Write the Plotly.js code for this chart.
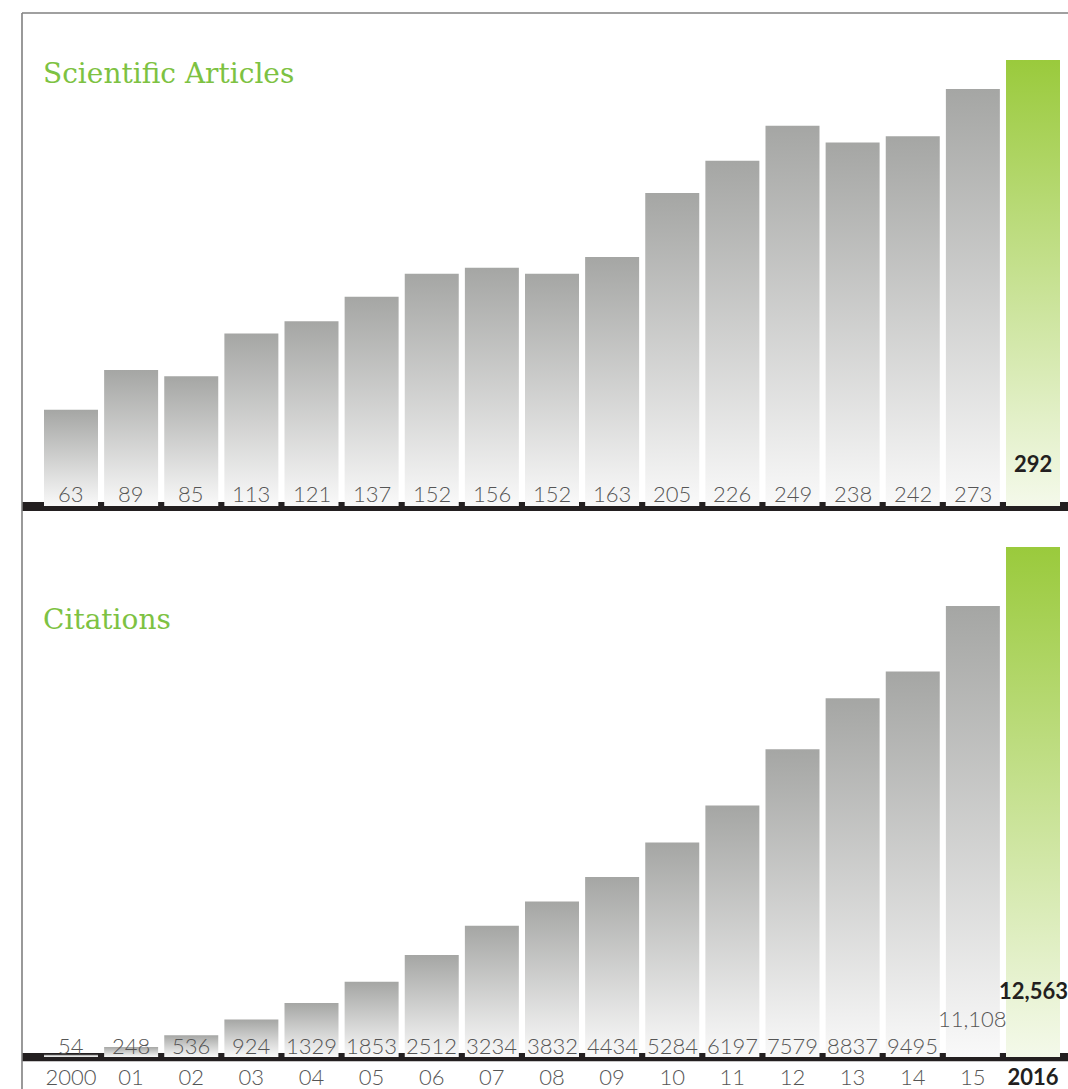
<!DOCTYPE html>
<html>
<head>
<meta charset="utf-8">
<script src="https://cdn.plot.ly/plotly-3.0.1.min.js"></script>
<style>
  html, body { margin: 0; padding: 0; background: #ffffff; }
  #chart { width: 1068px; height: 1089px; }
</style>
</head>
<body>
<div id="chart"></div>
<script>
// ---- data ----
const years = ['2000','01','02','03','04','05','06','07','08','09','10','11','12','13','14','15','2016'];
const articles = [63, 89, 85, 113, 121, 137, 152, 156, 152, 163, 205, 226, 249, 238, 242, 273, 292];
const citations = [54, 248, 536, 924, 1329, 1853, 2512, 3234, 3832, 4434, 5284, 6197, 7579, 8837, 9495, 11108, 12563];
const titles = ['Scientific Articles', 'Citations'];

// ---- styles ----
const W = 1068, H = 1089;
const GRAY_TOP = '#a5a6a4', GRAY_BOT = '#f9f9f9';
const GREEN_TOP = '#9aca3c', GREEN_BOT = '#f4f9ea';
const DARK = '#231f20', LABEL = '#555555', TITLE_GREEN = '#7dc242';
const HW = 0.449;      // bar half width (in category units)
const LAST = years.length - 1;

function barTraces(values, xa, ya) {
  return values.map((v, i) => {
    const hi = i === LAST;
    return {
      type: 'scatter', xaxis: xa, yaxis: ya,
      x: [i - HW, i - HW, i + HW, i + HW, i - HW],
      y: [0, v, v, 0, 0],
      mode: 'lines', line: {width: 0, color: 'rgba(0,0,0,0)'},
      fill: 'toself',
      fillgradient: {
        type: 'vertical', start: 0, stop: v,
        colorscale: hi ? [[0, GREEN_BOT], [1, GREEN_TOP]] : [[0, GRAY_BOT], [1, GRAY_TOP]]
      },
      hoverinfo: 'skip', showlegend: false
    };
  });
}

function fmt(v) { return v >= 10000 ? v.toLocaleString('en-US') : String(v); }

function valueAnns(values, xref, yref, shifts) {
  return values.map((v, i) => {
    const hi = i === LAST;
    return {
      xref: xref, yref: yref, x: i, y: 0,
      text: hi ? '<b>' + fmt(v) + '</b>' : fmt(v),
      showarrow: false, xanchor: 'center', yanchor: 'middle',
      yshift: shifts(i),
      font: {family: 'Lato, "Open Sans", sans-serif', size: 22, weight: hi ? 700 : 300, color: hi ? DARK : LABEL}
    };
  });
}

const traces = [].concat(barTraces(articles, 'x', 'y'), barTraces(citations, 'x2', 'y2'));

// pixel geometry -> axis ranges
const pxPerCat = 60.125;
const xDom0 = 22 / W;
const firstCenterOffset = 49;           // px from domain start to first bar centre
const xr0 = -firstCenterOffset / pxPerCat;
const xr1 = xr0 + (W - 22) / pxPerCat;

// top panel: zero at y=506 px, 292 -> 60 px
const topZero = 506, topDomBot = 515, topScale = (506 - 60) / 292;
// bottom panel: zero at y=1057 px, 12563 -> 547 px
const botZero = 1057, botDomBot = 1061.5, botDomTop = 520, botScale = (1057 - 547) / 12563;

const axHidden = {showgrid: false, zeroline: false, showticklabels: false, ticks: '', showline: false, fixedrange: true};

const tickText = years.map((y, i) => i === LAST ? '<span style="color:' + DARK + '"><b>' + y + '</b></span>' : y);

const layout = {
  width: W, height: H,
  margin: {l: 0, r: 0, t: 0, b: 0},
  paper_bgcolor: '#ffffff', plot_bgcolor: 'rgba(0,0,0,0)',
  showlegend: false,
  xaxis: Object.assign({}, axHidden, {domain: [xDom0, 1], range: [xr0, xr1], anchor: 'y'}),
  yaxis: Object.assign({}, axHidden, {
    domain: [(H - topDomBot) / H, 1],
    range: [-(topDomBot - topZero) / topScale, topZero / topScale], anchor: 'x'}),
  xaxis2: {
    domain: [xDom0, 1], range: [xr0, xr1], anchor: 'y2',
    showgrid: false, zeroline: false, showline: false, ticks: '', fixedrange: true,
    tickmode: 'array', tickvals: years.map((y, i) => i), ticktext: tickText,
    tickfont: {family: 'Lato, "Open Sans", sans-serif', size: 22, weight: 300, color: LABEL}
  },
  yaxis2: Object.assign({}, axHidden, {
    domain: [(H - botDomBot) / H, (H - botDomTop) / H],
    range: [-(botDomBot - botZero) / botScale, (botZero - botDomTop) / botScale], anchor: 'x2'}),
  shapes: [
    // frame
    {type: 'line', xref: 'paper', yref: 'paper', x0: xDom0, x1: 1, y0: 1 - 13 / H, y1: 1 - 13 / H, line: {color: '#808080', width: 1.6}},
    {type: 'line', xref: 'paper', yref: 'paper', x0: xDom0, x1: xDom0, y0: 0, y1: 1 - 13 / H, line: {color: '#808080', width: 1.6}},
    // baselines (under the bars: gaps between bars show as tick marks)
    {type: 'rect', layer: 'below', xref: 'x domain', x0: 0, x1: 1, yref: 'y', ysizemode: 'pixel', yanchor: 0, y0: -5, y1: 4, fillcolor: DARK, line: {width: 0}},
    {type: 'rect', layer: 'below', xref: 'x2 domain', x0: 0, x1: 1, yref: 'y2', ysizemode: 'pixel', yanchor: 0, y0: -4.5, y1: 4, fillcolor: DARK, line: {width: 0}}
  ],
  annotations: [].concat(
    valueAnns(articles, 'x', 'y', i => i === LAST ? 43 : 13),
    valueAnns(citations, 'x2', 'y2', i => i === LAST ? 67 : (i === LAST - 1 ? 39 : 12)),
    [
      {xref: 'paper', yref: 'paper', x: 41 / W, y: 1 - 73 / H, xanchor: 'left', yanchor: 'middle', showarrow: false,
       text: titles[0], font: {family: '"DejaVu Serif", serif', size: 28, color: TITLE_GREEN}},
      {xref: 'paper', yref: 'paper', x: 41 / W, y: 1 - 619 / H, xanchor: 'left', yanchor: 'middle', showarrow: false,
       text: titles[1], font: {family: '"DejaVu Serif", serif', size: 28, color: TITLE_GREEN}}
    ]
  )
};

Plotly.newPlot('chart', traces, layout, {displayModeBar: false, staticPlot: true});
</script>
</body>
</html>
